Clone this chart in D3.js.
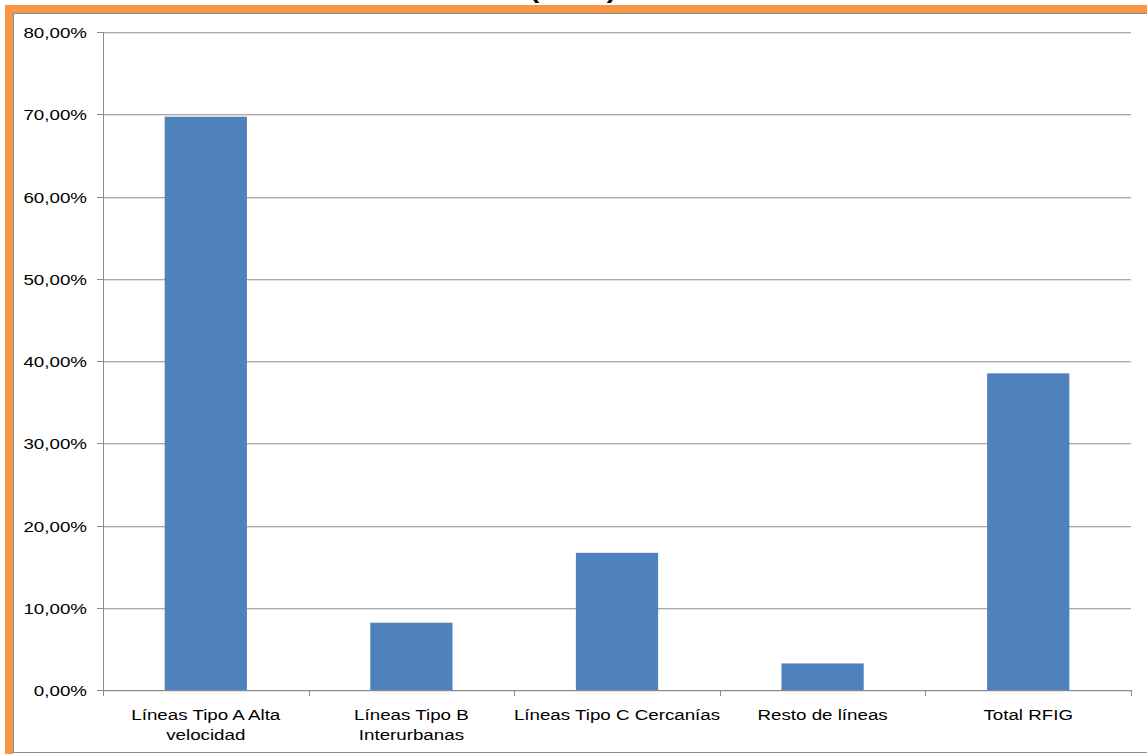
<!DOCTYPE html>
<html>
<head>
<meta charset="utf-8">
<script src="https://cdn.jsdelivr.net/npm/d3@7"></script>
<style>
  html, body { margin: 0; padding: 0; background: #ffffff; overflow: hidden; }
  svg { display: block; }
  text { font-family: "Liberation Sans", Arial, sans-serif; fill: #000; }
</style>
</head>
<body>
<svg id="chart" width="1147" height="754"></svg>
<script>
// ---- data ----
const categories = ["Líneas Tipo A Alta velocidad", "Líneas Tipo B Interurbanas", "Líneas Tipo C Cercanías", "Resto de líneas", "Total RFIG"];
const categoryLines = [["Líneas Tipo A Alta", "velocidad"], ["Líneas Tipo B", "Interurbanas"], ["Líneas Tipo C Cercanías"], ["Resto de líneas"], ["Total RFIG"]];
const values = [0.697, 0.0818, 0.1668, 0.0323, 0.3850];
const yTicks = [0, 0.1, 0.2, 0.3, 0.4, 0.5, 0.6, 0.7, 0.8];
const titleText = "(RFIG)";

// ---- layout ----
const svg = d3.select("#chart");
const plotLeft = 103, plotRight = 1131, plotTop = 32, plotBottom = 690;
const stretch = 1.21;

const locale = d3.formatLocale({decimal: ",", thousands: ".", grouping: [3], currency: ["", "€"], percent: "%"});
const fmt = locale.format(".2%");

const x = d3.scaleBand().domain(categories).range([plotLeft, plotRight]).paddingInner(0.6).paddingOuter(0.3);
const xOuter = d3.scaleBand().domain(categories).range([plotLeft, plotRight]).padding(0);
const y = d3.scaleLinear().domain([0, 0.8]).range([plotBottom, plotTop]);

// outer frame
svg.append("rect").attr("x", 9).attr("y", 9).attr("width", 3000).attr("height", 3000)
  .attr("fill", "none").attr("stroke", "#F79646").attr("stroke-width", 8);
svg.append("rect").attr("x", 13.5).attr("y", 13.5).attr("width", 3000).attr("height", 739)
  .attr("fill", "#ffffff").attr("stroke", "#8c8c8c").attr("stroke-width", 1);

// title (clipped at top, as in the reference)
svg.append("text").attr("transform", `translate(573,-2.5) scale(1.18,1)`)
  .attr("text-anchor", "middle").style("font-size", "24px").style("font-weight", "bold")
  .text(titleText);

// gridlines
const grid = svg.append("g");
yTicks.filter(t => t > 0).forEach(t => {
  const yy = Math.round(y(t));
  grid.append("line").attr("x1", plotLeft).attr("x2", plotRight).attr("y1", yy + 0.5).attr("y2", yy + 0.5)
    .attr("stroke", "#a9a9a9").attr("stroke-width", 1);
  grid.append("line").attr("x1", plotLeft).attr("x2", plotRight).attr("y1", yy + 1.5).attr("y2", yy + 1.5)
    .attr("stroke", "#e2e2e2").attr("stroke-width", 1);
});

// bars
svg.append("g").selectAll("rect").data(values).join("rect")
  .attr("x", (d, i) => x(categories[i]))
  .attr("width", x.bandwidth())
  .attr("y", d => y(d))
  .attr("height", d => y(0) - y(d))
  .attr("fill", "#4F81BD");

// y axis
const yAxis = svg.append("g");
yAxis.append("line").attr("x1", plotLeft + 0.5).attr("x2", plotLeft + 0.5).attr("y1", plotTop).attr("y2", plotBottom + 1)
  .attr("stroke", "#8c8c8c");
yTicks.forEach(t => {
  const yy = Math.round(y(t));
  yAxis.append("line").attr("x1", plotLeft - 6).attr("x2", plotLeft).attr("y1", yy + 0.5).attr("y2", yy + 0.5)
    .attr("stroke", "#8c8c8c");
  yAxis.append("text").attr("transform", `translate(87,${yy + 6}) scale(${stretch},1)`)
    .attr("text-anchor", "end").style("font-size", "15.5px").text(fmt(t));
});

// x axis
const xAxis = svg.append("g");
xAxis.append("line").attr("x1", plotLeft).attr("x2", plotRight + 1).attr("y1", plotBottom + 0.5).attr("y2", plotBottom + 0.5)
  .attr("stroke", "#8c8c8c");
xAxis.append("line").attr("x1", plotLeft).attr("x2", plotRight + 1).attr("y1", plotBottom + 1.5).attr("y2", plotBottom + 1.5)
  .attr("stroke", "#e2e2e2");
const tickXs = categories.map(c => xOuter(c)).concat([plotRight]);
tickXs.forEach(tx => {
  const xx = Math.round(tx);
  xAxis.append("line").attr("x1", xx + 0.5).attr("x2", xx + 0.5).attr("y1", plotBottom).attr("y2", plotBottom + 6)
    .attr("stroke", "#8c8c8c");
});
categories.forEach((c, i) => {
  const cx = x(c) + x.bandwidth() / 2;
  categoryLines[i].forEach((line, j) => {
    xAxis.append("text").attr("transform", `translate(${cx},${719.5 + j * 20}) scale(${stretch},1)`)
      .attr("text-anchor", "middle").style("font-size", "15.5px").text(line);
  });
});
</script>
</body>
</html>
